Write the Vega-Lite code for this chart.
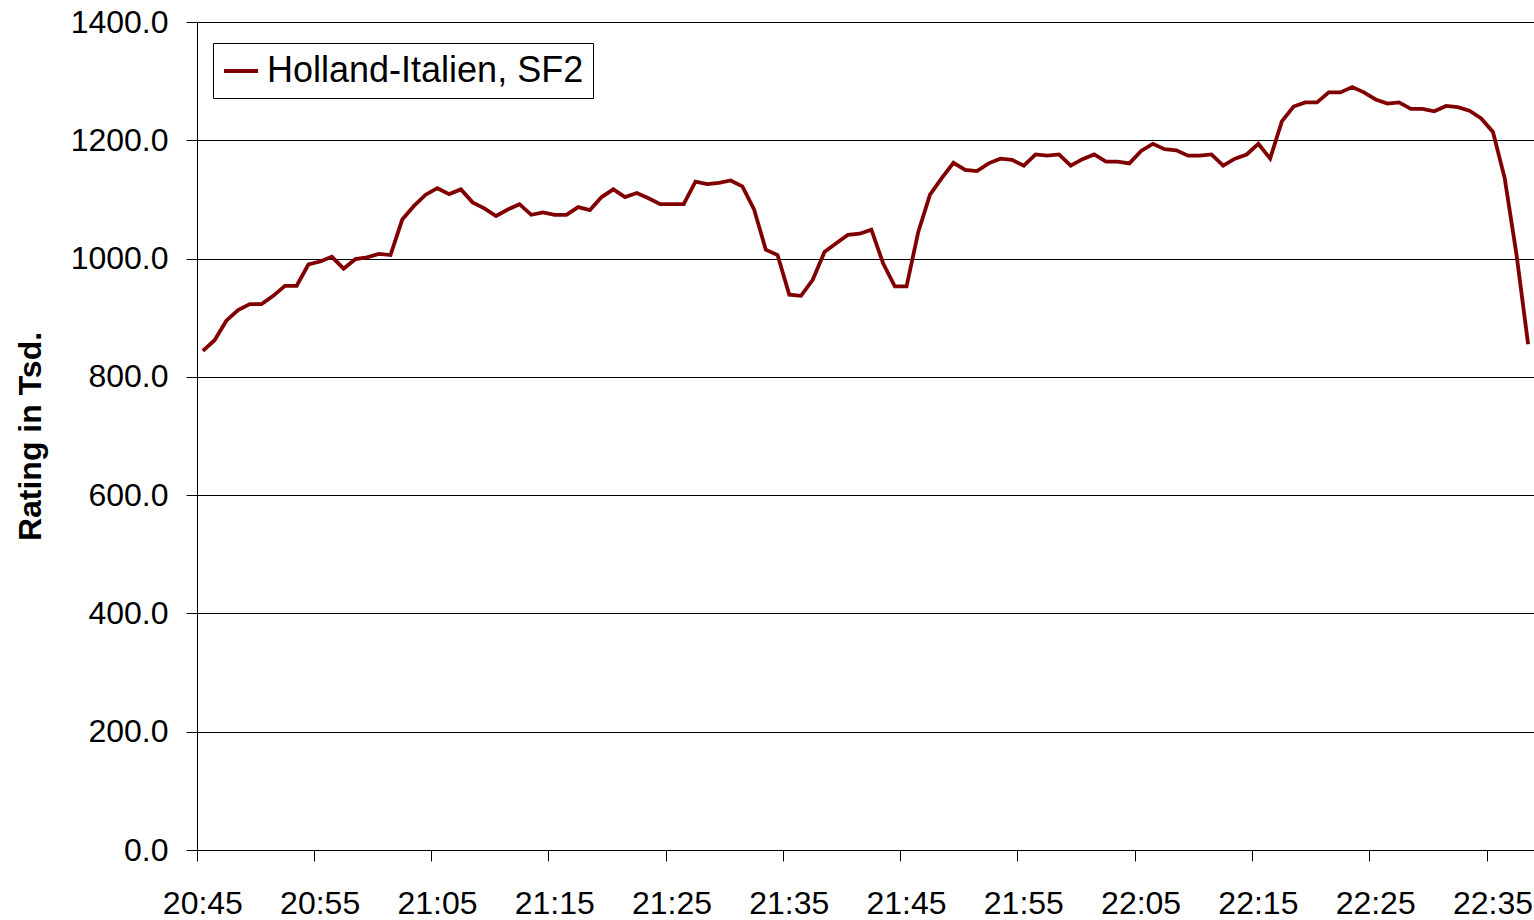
{
  "$schema": "https://vega.github.io/schema/vega-lite/v6.json",
  "width": 1337,
  "height": 828,
  "autosize": {"type": "none"},
  "padding": {"left": 197, "top": 22, "right": 0, "bottom": 70},
  "background": "white",
  "config": {"view": {"stroke": null}, "font": "Liberation Sans"},
  "data": {"values": [
    {"time": "20:45", "rating": 844}, {"time": "20:46", "rating": 862}, {"time": "20:47", "rating": 895}, {"time": "20:48", "rating": 913},
    {"time": "20:49", "rating": 923}, {"time": "20:50", "rating": 923}, {"time": "20:51", "rating": 937}, {"time": "20:52", "rating": 954},
    {"time": "20:53", "rating": 954}, {"time": "20:54", "rating": 990}, {"time": "20:55", "rating": 995}, {"time": "20:56", "rating": 1003},
    {"time": "20:57", "rating": 983}, {"time": "20:58", "rating": 999}, {"time": "20:59", "rating": 1002}, {"time": "21:00", "rating": 1008},
    {"time": "21:01", "rating": 1006}, {"time": "21:02", "rating": 1066}, {"time": "21:03", "rating": 1089}, {"time": "21:04", "rating": 1108},
    {"time": "21:05", "rating": 1119}, {"time": "21:06", "rating": 1109}, {"time": "21:07", "rating": 1117}, {"time": "21:08", "rating": 1095},
    {"time": "21:09", "rating": 1085}, {"time": "21:10", "rating": 1072}, {"time": "21:11", "rating": 1083}, {"time": "21:12", "rating": 1092},
    {"time": "21:13", "rating": 1074}, {"time": "21:14", "rating": 1078}, {"time": "21:15", "rating": 1074}, {"time": "21:16", "rating": 1074},
    {"time": "21:17", "rating": 1087}, {"time": "21:18", "rating": 1082}, {"time": "21:19", "rating": 1104}, {"time": "21:20", "rating": 1117},
    {"time": "21:21", "rating": 1104}, {"time": "21:22", "rating": 1111}, {"time": "21:23", "rating": 1102}, {"time": "21:24", "rating": 1092},
    {"time": "21:25", "rating": 1092}, {"time": "21:26", "rating": 1092}, {"time": "21:27", "rating": 1130}, {"time": "21:28", "rating": 1126},
    {"time": "21:29", "rating": 1128}, {"time": "21:30", "rating": 1132}, {"time": "21:31", "rating": 1122}, {"time": "21:32", "rating": 1083},
    {"time": "21:33", "rating": 1015}, {"time": "21:34", "rating": 1006}, {"time": "21:35", "rating": 939}, {"time": "21:36", "rating": 937},
    {"time": "21:37", "rating": 964}, {"time": "21:38", "rating": 1011}, {"time": "21:39", "rating": 1026}, {"time": "21:40", "rating": 1040},
    {"time": "21:41", "rating": 1042}, {"time": "21:42", "rating": 1049}, {"time": "21:43", "rating": 992}, {"time": "21:44", "rating": 953},
    {"time": "21:45", "rating": 953}, {"time": "21:46", "rating": 1045}, {"time": "21:47", "rating": 1108}, {"time": "21:48", "rating": 1136},
    {"time": "21:49", "rating": 1162}, {"time": "21:50", "rating": 1150}, {"time": "21:51", "rating": 1148}, {"time": "21:52", "rating": 1161},
    {"time": "21:53", "rating": 1169}, {"time": "21:54", "rating": 1167}, {"time": "21:55", "rating": 1157}, {"time": "21:56", "rating": 1176},
    {"time": "21:57", "rating": 1174}, {"time": "21:58", "rating": 1176}, {"time": "21:59", "rating": 1157}, {"time": "22:00", "rating": 1168},
    {"time": "22:01", "rating": 1176}, {"time": "22:02", "rating": 1164}, {"time": "22:03", "rating": 1164}, {"time": "22:04", "rating": 1161},
    {"time": "22:05", "rating": 1182}, {"time": "22:06", "rating": 1194}, {"time": "22:07", "rating": 1185}, {"time": "22:08", "rating": 1183},
    {"time": "22:09", "rating": 1174}, {"time": "22:10", "rating": 1174}, {"time": "22:11", "rating": 1176}, {"time": "22:12", "rating": 1157},
    {"time": "22:13", "rating": 1169}, {"time": "22:14", "rating": 1176}, {"time": "22:15", "rating": 1194}, {"time": "22:16", "rating": 1169},
    {"time": "22:17", "rating": 1232}, {"time": "22:18", "rating": 1257}, {"time": "22:19", "rating": 1264}, {"time": "22:20", "rating": 1264},
    {"time": "22:21", "rating": 1281}, {"time": "22:22", "rating": 1281}, {"time": "22:23", "rating": 1290}, {"time": "22:24", "rating": 1281},
    {"time": "22:25", "rating": 1269}, {"time": "22:26", "rating": 1262}, {"time": "22:27", "rating": 1264}, {"time": "22:28", "rating": 1253},
    {"time": "22:29", "rating": 1253}, {"time": "22:30", "rating": 1249}, {"time": "22:31", "rating": 1258}, {"time": "22:32", "rating": 1256},
    {"time": "22:33", "rating": 1250}, {"time": "22:34", "rating": 1237}, {"time": "22:35", "rating": 1214}, {"time": "22:36", "rating": 1136},
    {"time": "22:37", "rating": 1008}, {"time": "22:38", "rating": 855}
  ]},
  "mark": {"type": "line", "strokeWidth": 3.8},
  "encoding": {
    "x": {
      "field": "time", "type": "nominal",
      "scale": {"type": "band", "paddingInner": 0, "paddingOuter": 0},
      "axis": {
        "values": ["20:45", "20:55", "21:05", "21:15", "21:25", "21:35", "21:45", "21:55", "22:05", "22:15", "22:25", "22:35"],
        "bandPosition": 0, "labelOffset": 0, "title": null, "labelAngle": 0,
        "labelFontSize": 32, "labelFont": "Liberation Sans", "labelColor": "#000",
        "tickSize": 11, "tickColor": "#000", "domainColor": "#000", "labelPadding": 27,
        "grid": false, "labelOverlap": false, "labelBaseline": "top"
      }
    },
    "y": {
      "field": "rating", "type": "quantitative",
      "scale": {"domain": [0, 1400], "nice": false},
      "axis": {
        "values": [0, 200, 400, 600, 800, 1000, 1200, 1400], "format": ".1f",
        "labelFontSize": 32, "labelFont": "Liberation Sans", "labelColor": "#000",
        "tickSize": 11, "tickColor": "#000", "domainColor": "#000", "labelPadding": 18,
        "grid": true, "gridColor": "#000", "gridWidth": 1,
        "title": "Rating in Tsd.", "titleFontSize": 32, "titleFont": "Liberation Sans", "titleFontWeight": "bold",
        "titleColor": "#000", "titleAngle": 270, "titleX": -157, "titleY": 414, "titleBaseline": "alphabetic", "titleAlign": "center"
      }
    },
    "color": {
      "datum": "Holland-Italien, SF2", "type": "nominal",
      "scale": {"range": ["#800000"]},
      "legend": {
        "title": null, "orient": "none", "legendX": 16, "legendY": 21,
        "strokeColor": "#000", "fillColor": "#fff", "padding": 9,
        "symbolType": "stroke", "symbolSize": 1156, "symbolStrokeWidth": 3.8,
        "labelFontSize": 36, "labelFont": "Liberation Sans", "labelColor": "#000", "labelOffset": 7, "labelLimit": 0
      }
    }
  }
}
